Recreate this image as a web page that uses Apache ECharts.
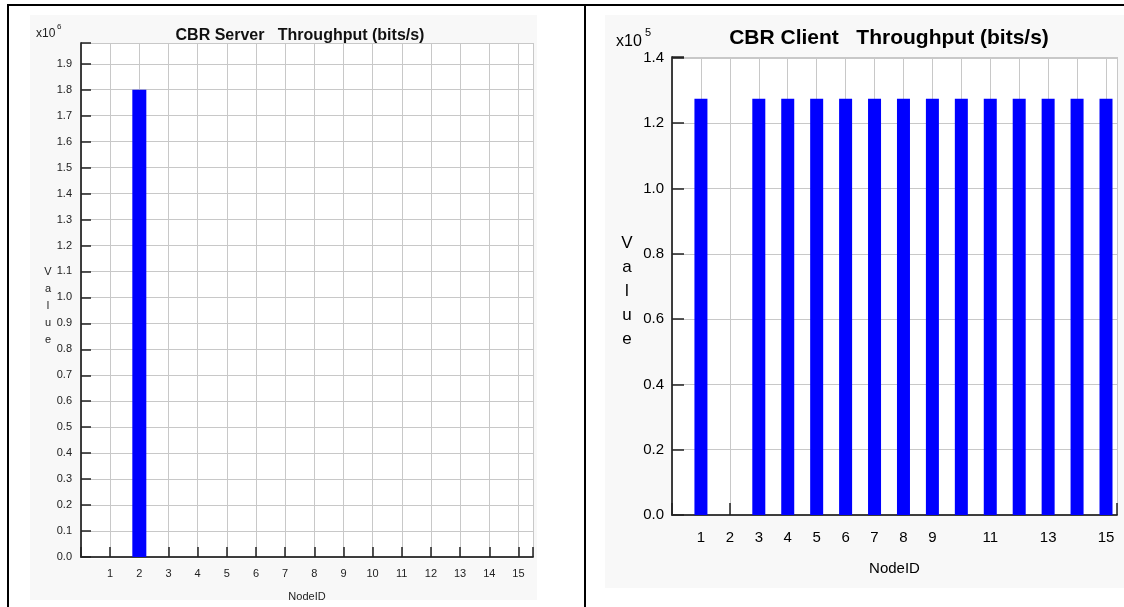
<!DOCTYPE html>
<html>
<head>
<meta charset="utf-8">
<script src="https://cdn.jsdelivr.net/npm/echarts@6/dist/echarts.min.js"></script>
<style>
  html, body { margin: 0; padding: 0; background: #ffffff; }
  #chart { width: 1124px; height: 607px; }
</style>
</head>
<body>
<div id="chart"></div>
<script>
// Node identifiers shared by both panels
const nodeIds = [1, 2, 3, 4, 5, 6, 7, 8, 9, 10, 11, 12, 13, 14, 15];

// Throughput per node, bits/s
const serverThroughput = [0, 1800000, 0, 0, 0, 0, 0, 0, 0, 0, 0, 0, 0, 0, 0];
const clientThroughput = [127500, 0, 127500, 127500, 127500, 127500, 127500, 127500,
                          127500, 127500, 127500, 127500, 127500, 127500, 127500];

// Tick labels shown under each x axis (blank entries are skipped)
const serverTickLabels = ['1','2','3','4','5','6','7','8','9','10','11','12','13','14','15'];
const clientTickLabels = ['1','2','3','4','5','6','7','8','9','','11','','13','','15'];

// Panel titles and exponent markers
const serverTitle = 'CBR Server   Throughput (bits/s)';
const clientTitle = 'CBR Client   Throughput (bits/s)';
const serverExp = '6';
const clientExp = '5';

const FONT = '"Liberation Sans", Arial, Helvetica, sans-serif';
const serverMax = Math.max(...serverThroughput) * 1.1;
const clientMax = Math.max(...clientThroughput) * 1.1;

function pairs(values) {
  return nodeIds.map((id, i) => [id, values[i]]);
}
function xLabeler(labels) {
  return function (v) {
    if (!Number.isInteger(v) || v < 1 || v > labels.length) return '';
    return labels[v - 1];
  };
}

const chart = echarts.init(document.getElementById('chart'), null, { renderer: 'canvas' });

const gridL = { left: 81, top: 43, width: 452, height: 516 };
const gridR = { left: 672, top: 57, width: 445, height: 458 };

const axisLine = { show: true, lineStyle: { color: '#333', width: 1.5 } };
const splitLine = { show: true, lineStyle: { color: '#c8c8c8', width: 1 } };

// Box edge without ticks (top / right sides of each plot)
function edgeX(gridIndex, max) {
  return {
    type: 'value', gridIndex, position: 'top', min: 0, max, interval: 1,
    axisLine, axisTick: { show: false }, axisLabel: { show: false }, splitLine: { show: false }
  };
}
function edgeY(gridIndex, max, interval) {
  return {
    type: 'value', gridIndex, position: 'right', min: 0, max, interval,
    axisLine, axisTick: { show: false }, axisLabel: { show: false }, splitLine: { show: false }
  };
}
// Tick-only axes shifted into the plot so that their outward ticks end on the box edge
function tickX(gridIndex, max, position, len) {
  return {
    type: 'value', gridIndex, position, offset: -len, min: 0, max, interval: 1,
    axisLine: { show: false },
    axisTick: { show: true, length: len, lineStyle: { color: '#222', width: 1.5 } },
    axisLabel: { show: false }, splitLine: { show: false }
  };
}
function tickY(gridIndex, max, interval, position, len) {
  return {
    type: 'value', gridIndex, position, offset: -len, min: 0, max, interval,
    axisLine: { show: false },
    axisTick: { show: true, length: len, lineStyle: { color: '#222', width: 1.5 } },
    axisLabel: { show: false }, splitLine: { show: false }
  };
}

chart.setOption({
  animation: false,
  backgroundColor: '#ffffff',
  title: [
    {
      text: serverTitle, left: 300, top: 28, textAlign: 'center', padding: 0,
      textStyle: { fontFamily: FONT, fontSize: 16, fontWeight: 'bold', color: '#111' }
    },
    {
      text: clientTitle, left: 889, top: 28, textAlign: 'center', padding: 0,
      textStyle: { fontFamily: FONT, fontSize: 21, fontWeight: 'bold', color: '#000' }
    },
    // scale factor markers: "x10" with a raised exponent
    {
      text: 'x10', left: 36, top: 28, padding: 0,
      textStyle: { fontFamily: FONT, fontSize: 12, fontWeight: 'normal', color: '#222' }
    },
    {
      text: serverExp, left: 57, top: 23, padding: 0,
      textStyle: { fontFamily: FONT, fontSize: 8, fontWeight: 'normal', color: '#222' }
    },
    {
      text: 'x10', left: 616, top: 34, padding: 0,
      textStyle: { fontFamily: FONT, fontSize: 16, fontWeight: 'normal', color: '#000' }
    },
    {
      text: clientExp, left: 645, top: 27, padding: 0,
      textStyle: { fontFamily: FONT, fontSize: 11, fontWeight: 'normal', color: '#000' }
    }
  ],
  graphic: [
    // faint panel backgrounds
    { type: 'rect', z: -10, silent: true, shape: { x: 30, y: 15, width: 507, height: 585 }, style: { fill: '#f8f8f8' } },
    { type: 'rect', z: -10, silent: true, shape: { x: 605, y: 15, width: 519, height: 573 }, style: { fill: '#f8f8f8' } },
    // plot area fills
    { type: 'rect', z: -9, silent: true, shape: { x: gridL.left, y: gridL.top, width: gridL.width, height: gridL.height }, style: { fill: '#ffffff' } },
    { type: 'rect', z: -9, silent: true, shape: { x: gridR.left, y: gridR.top, width: gridR.width, height: gridR.height }, style: { fill: '#ffffff' } },
    // page frame
    { type: 'line', silent: true, shape: { x1: 7, y1: 5, x2: 1124, y2: 5 }, style: { stroke: '#000', lineWidth: 2 } },
    { type: 'line', silent: true, shape: { x1: 8, y1: 4, x2: 8, y2: 607 }, style: { stroke: '#000', lineWidth: 2 } },
    { type: 'line', silent: true, shape: { x1: 585, y1: 4, x2: 585, y2: 607 }, style: { stroke: '#000', lineWidth: 2 } }
  ],
  grid: [
    Object.assign({ containLabel: false }, gridL),
    Object.assign({ containLabel: false }, gridR)
  ],
  xAxis: [
    {
      type: 'value', gridIndex: 0, min: 0, max: 15.5, interval: 1,
      name: 'NodeID', nameLocation: 'middle', nameGap: 34, nameMoveOverlap: false,
      nameTextStyle: { fontFamily: FONT, fontSize: 11, color: '#222' },
      axisLine, axisTick: { show: false },
      axisLabel: { fontFamily: FONT, fontSize: 11, color: '#222', margin: 11, formatter: xLabeler(serverTickLabels), showMaxLabel: false },
      splitLine
    },
    {
      type: 'value', gridIndex: 1, min: 0, max: 15.38, interval: 1,
      name: 'NodeID', nameLocation: 'middle', nameGap: 46, nameMoveOverlap: false,
      nameTextStyle: { fontFamily: FONT, fontSize: 15, color: '#000' },
      axisLine, axisTick: { show: false },
      axisLabel: { fontFamily: FONT, fontSize: 15, color: '#000', margin: 15, formatter: xLabeler(clientTickLabels), showMaxLabel: false },
      splitLine
    },
    edgeX(0, 15.5),
    edgeX(1, 15.38),
    tickX(0, 15.5, 'bottom', 5),
    tickX(0, 15.5, 'top', 5),
    tickX(1, 15.38, 'bottom', 6),
    tickX(1, 15.38, 'top', 6)
  ],
  yAxis: [
    {
      type: 'value', gridIndex: 0, min: 0, max: serverMax, interval: 100000,
      name: '{g| }\nV\na\nl\nu\ne', nameLocation: 'middle', nameRotate: 0, nameGap: 33, nameMoveOverlap: false,
      nameTextStyle: { fontFamily: FONT, fontSize: 11, color: '#222', align: 'center', verticalAlign: 'middle', lineHeight: 17,
        rich: { g: { fontSize: 4, lineHeight: 11, height: 11 } } },
      axisLine, axisTick: { show: false },
      axisLabel: { fontFamily: FONT, fontSize: 11, color: '#222', margin: 9, showMaxLabel: false,
        formatter: v => (v / 1e6).toFixed(1) },
      splitLine
    },
    {
      type: 'value', gridIndex: 1, min: 0, max: clientMax, interval: 20000,
      name: '{g| }\nV\na\nl\nu\ne', nameLocation: 'middle', nameRotate: 0, nameGap: 45, nameMoveOverlap: false,
      nameTextStyle: { fontFamily: FONT, fontSize: 17, color: '#000', align: 'center', verticalAlign: 'middle', lineHeight: 24,
        rich: { g: { fontSize: 4, lineHeight: 11, height: 11 } } },
      axisLine, axisTick: { show: false },
      axisLabel: { fontFamily: FONT, fontSize: 15, color: '#000', margin: 8, showMaxLabel: false,
        formatter: v => (v / 1e5).toFixed(1) },
      splitLine
    },
    edgeY(0, serverMax, 100000),
    edgeY(1, clientMax, 20000),
    tickY(0, serverMax, 100000, 'left', 5),
    tickY(0, serverMax, 100000, 'right', 5),
    tickY(1, clientMax, 20000, 'left', 6),
    tickY(1, clientMax, 20000, 'right', 6)
  ],
  series: [
    {
      type: 'bar', xAxisIndex: 0, yAxisIndex: 0, barWidth: 14,
      itemStyle: { color: '#0000ff' }, silent: true,
      data: pairs(serverThroughput)
    },
    {
      type: 'bar', xAxisIndex: 1, yAxisIndex: 1, barWidth: 13,
      itemStyle: { color: '#0000ff' }, silent: true,
      data: pairs(clientThroughput)
    }
  ]
});
</script>
</body>
</html>
